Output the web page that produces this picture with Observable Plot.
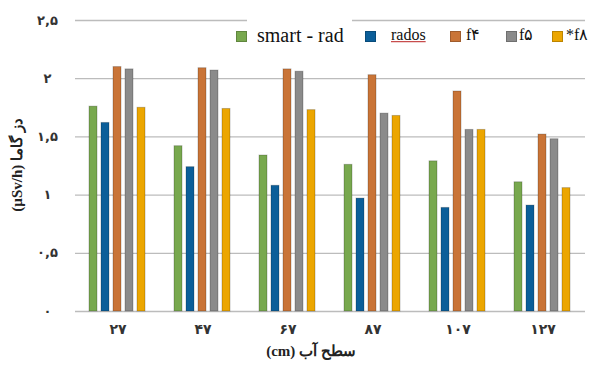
<!DOCTYPE html>
<html>
<head>
<meta charset="utf-8">
<script src="https://cdn.jsdelivr.net/npm/d3@7"></script>
<script src="https://cdn.jsdelivr.net/npm/@observablehq/plot@0.6"></script>
<style>
  html, body { margin: 0; padding: 0; background: #fff; }
  #wrap { position: relative; width: 597px; height: 370px; overflow: hidden; }
  #legend { position: absolute; top: 0; left: 0; font-family: "Liberation Serif", "Times New Roman", "DejaVu Serif", serif; color: #111; }
  #legend .sw { position: absolute; top: 31px; width: 11px; height: 11px; box-sizing: border-box; border: 1px solid rgba(0,0,0,0.2); z-index: 2; }
  #legend .tx { position: absolute; top: 36px; transform: translateY(-55%); white-space: nowrap; line-height: 1; z-index: 1; }
  .lab { position: absolute; font-family: "Liberation Serif", "Times New Roman", serif; font-weight: bold; font-size: 15px; color: #222; white-space: nowrap; direction: rtl; }
  #xlabel { top: 342px; left: 311px; transform: translateX(-50%); }
  #ylabel { top: 165px; left: 17px; transform: translate(-50%, -50%) rotate(-90deg); }
</style>
</head>
<body>
<div id="wrap"><div id="chart"></div><div id="legend"></div><div id="xlabel" class="lab"></div><div id="ylabel" class="lab"></div></div>
<script>
const levels = ["۲۷", "۴۷", "۶۷", "۸۷", "۱۰۷", "۱۲۷"];
const series = ["smart - rad", "rados", "f۴", "f۵", "*f۸"];
const colors = ["#78a84e", "#0b5e99", "#c97437", "#8b8b8b", "#eca600"];
const smartRad = [1.76, 1.42, 1.34, 1.26, 1.29, 1.11];
const rados    = [1.62, 1.24, 1.08, 0.97, 0.89, 0.91];
const f4       = [2.10, 2.09, 2.08, 2.03, 1.89, 1.52];
const f5       = [2.08, 2.07, 2.06, 1.70, 1.56, 1.48];
const f8       = [1.75, 1.74, 1.73, 1.68, 1.56, 1.06];
const yTicks = [0, 0.5, 1, 1.5, 2, 2.5];
const yTickLabels = ["۰", "۰,۵", "۱", "۱,۵", "۲", "۲,۵"];
const yLabel = "دز گاما (µSv/h)";
const xLabel = "سطح آب  (cm)";

const valueSets = [smartRad, rados, f4, f5, f8];
const data = [];
levels.forEach((lv, i) => {
  series.forEach((s, j) => data.push({level: lv, series: s, value: valueSets[j][i]}));
});

const chart = Plot.plot({
  width: 597,
  height: 370,
  marginLeft: 75,
  marginRight: 12,
  marginTop: 20,
  marginBottom: 59,
  style: {fontFamily: "DejaVu Sans, sans-serif", background: "#fff"},
  fx: {domain: levels, padding: 0},
  x: {domain: series, paddingInner: 0.3, paddingOuter: 0.98},
  y: {domain: [0, 2.5]},
  color: {domain: series, range: colors},
  marks: [
    Plot.gridY(yTicks, {stroke: "#bcbcbc", strokeOpacity: 1, strokeWidth: 1.3}),
    Plot.barY(data, {fx: "level", x: "series", y: "value", fill: "series", stroke: "#000", strokeOpacity: 0.22, strokeWidth: 1}),
    Plot.axisY(yTicks, {anchor: "left", tickSize: 0, tickPadding: 28, textAnchor: "middle",
      tickFormat: d => yTickLabels[yTicks.indexOf(d)], fontSize: 13, fontWeight: "bold",
      fill: "#333", label: null}),
    Plot.axisFx({anchor: "bottom", tickSize: 0, tickPadding: 13, fontSize: 14, fontWeight: "bold", fill: "#333", label: null}),
    Plot.axisX({ticks: [], label: null, tickSize: 0})
  ]
});
document.getElementById("chart").append(chart);

// legend layout (pixel positions of swatch and text for each entry)
const legendLayout = [
  {sw: 236, tx: 257, size: 20},
  {sw: 365, tx: 391, size: 16},
  {sw: 450, tx: 466, size: 16},
  {sw: 506, tx: 519, size: 16},
  {sw: 552, tx: 566, size: 16}
];
const legend = document.getElementById("legend");
series.forEach((s, j) => {
  const L = legendLayout[j];
  const sw = document.createElement("span");
  sw.className = "sw";
  sw.style.left = L.sw + "px";
  sw.style.background = colors[j];
  const t = document.createElement("span");
  t.className = "tx";
  t.textContent = s;
  t.style.left = L.tx + "px";
  t.style.fontSize = L.size + "px";
  if (j === 0) { t.style.background = "#fff"; t.style.padding = "12px 8px 2px 10px"; t.style.marginLeft = "-10px"; t.style.marginTop = "-4px"; }
  if (j === 1) { t.style.textDecoration = "underline"; t.style.textDecorationColor = "#b22"; }
  legend.append(sw, t);
});
document.getElementById("xlabel").textContent = xLabel;
document.getElementById("ylabel").textContent = yLabel;
</script>
</body>
</html>
